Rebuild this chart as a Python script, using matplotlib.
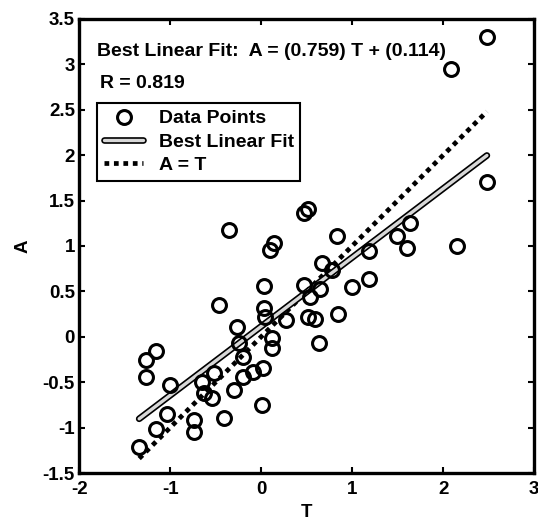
import numpy as np
import matplotlib
matplotlib.use("Agg")
import matplotlib.pyplot as plt
from matplotlib.ticker import FuncFormatter

plt.rcParams['font.family'] = ['Liberation Sans', 'DejaVu Sans']
plt.rcParams['font.weight'] = 'bold'
plt.rcParams['axes.unicode_minus'] = False

# data points (T = target, A = output)
T = np.array([2.48, 2.09, 2.48, 2.15, 1.64, 1.49, 1.60, 1.19, 1.18, 1.00,
              0.83, 0.84, 0.67, 0.78, 0.65, 0.47, 0.54, 0.52, 0.59, 0.64,
              0.47, 0.52, 0.10, 0.14, -0.35, -0.46, 0.03, 0.03, 0.04, 0.27,
              -0.26, 0.12, 0.12, -0.24, -0.20, -0.20, -0.09, 0.02, -0.30, 0.01,
              -0.41, -0.52, -0.65, -0.63, -0.54, -0.74, -0.74, -1.00, -1.15, -1.27,
              -1.26, -1.03, -1.16, -1.34])
A = np.array([3.30, 2.95, 1.70, 1.00, 1.25, 1.11, 0.98, 0.94, 0.64, 0.55,
              1.11, 0.25, 0.81, 0.74, 0.53, 0.57, 0.44, 0.22, 0.20, -0.07,
              1.36, 1.41, 0.96, 1.03, 1.18, 0.35, 0.56, 0.32, 0.22, 0.18,
              0.11, -0.01, -0.12, -0.07, -0.22, -0.44, -0.39, -0.34, -0.59, -0.75,
              -0.89, -0.40, -0.50, -0.62, -0.67, -0.92, -1.05, -0.53, -0.16, -0.26,
              -0.44, -0.85, -1.01, -1.21])

fit_slope = 0.759
fit_intercept = 0.114
r_value = 0.819

x_ticks = [-2, -1, 0, 1, 2, 3]
y_ticks = [-1.5, -1, -0.5, 0, 0.5, 1, 1.5, 2, 2.5, 3, 3.5]

fig = plt.figure(figsize=(5.38, 5.25), dpi=100)
ax = fig.add_axes([0.147, 0.099, 0.846, 0.865])

# A = T reference line (square dots)
tt = np.array([T.min(), T.max()])
l_id, = ax.plot(tt, tt, color='black', lw=3.4, linestyle=(0, (1, 1.0)),
                dash_capstyle='butt', zorder=2)

# best linear fit: light line with black outline
fit = fit_slope * tt + fit_intercept
l_fit_out, = ax.plot(tt, fit, color='black', lw=4.8, solid_capstyle='round', zorder=3)
l_fit_in, = ax.plot(tt, fit, color='#d8d8d8', lw=2.4, solid_capstyle='round', zorder=4)

l_pts, = ax.plot(T, A, linestyle='none', marker='o', markersize=10,
                 markerfacecolor='none', markeredgecolor='black',
                 markeredgewidth=2.2, zorder=5)

ax.set_xlim(-2, 3)
ax.set_ylim(-1.5, 3.5)
ax.set_xticks(x_ticks)
ax.set_yticks(y_ticks)
fmt = FuncFormatter(lambda v, p: '%g' % v)
ax.xaxis.set_major_formatter(fmt)
ax.yaxis.set_major_formatter(fmt)
ax.tick_params(axis='both', direction='in', length=4, width=1.5, top=True, right=True,
               labelsize=13.5)
ax.tick_params(axis='x', pad=6)
ax.tick_params(axis='y', pad=3)
for s in ax.spines.values():
    s.set_linewidth(2.4)

ax.set_xlabel('T', fontsize=13.5, fontweight='bold', labelpad=4)
ax.set_ylabel('A', fontsize=13.5, fontweight='bold', labelpad=8)

ax.text(-1.80, 3.14, 'Best Linear Fit:  A = (%.3f) T + (%.3f)' % (fit_slope, fit_intercept),
        fontsize=14, fontweight='bold', ha='left', va='center')
ax.text(-1.77, 2.79, 'R = %.3f' % r_value, fontsize=14, fontweight='bold',
        ha='left', va='center')

leg = ax.legend([l_pts, (l_fit_out, l_fit_in), l_id],
                ['Data Points', 'Best Linear Fit', 'A = T'],
                loc='upper left', bbox_to_anchor=(0.04, 0.815), borderaxespad=0,
                fancybox=False, framealpha=1, edgecolor='black',
                prop={'size': 14, 'weight': 'bold'},
                handlelength=2.0, handletextpad=0.8, labelspacing=0.3,
                borderpad=0.35)
leg.get_frame().set_linewidth(1.5)

fig.savefig('out.png', dpi=100)
